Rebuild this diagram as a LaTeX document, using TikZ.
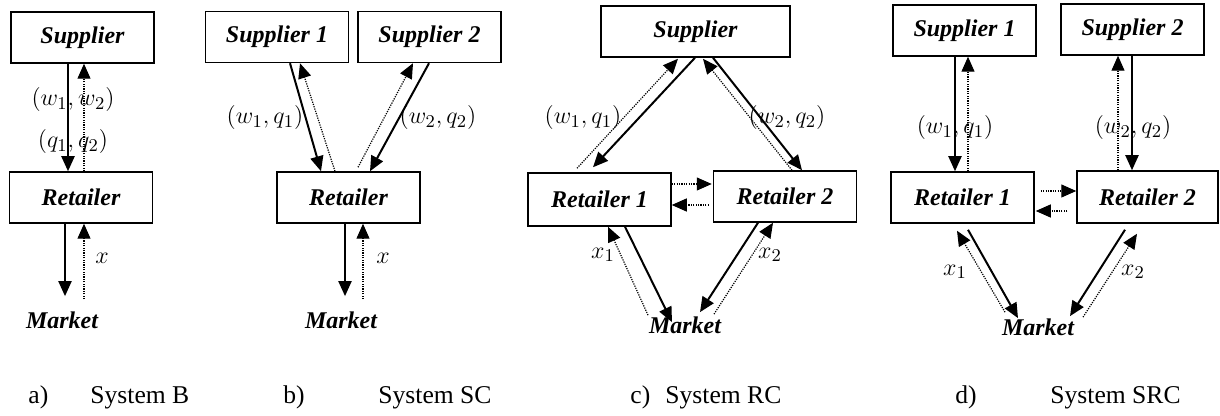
\documentclass[tikz,border=0pt]{standalone}
\usepackage{fontspec}
\setmainfont{Liberation Serif}
\usepackage{tikz}
\usetikzlibrary{arrows.meta,calc}
\usepackage{amsmath}

\begin{document}
\begin{tikzpicture}[x=0.5pt,y=-0.5pt,
box/.style={draw,line width=0.75pt,minimum width=71.5pt,minimum height=25.5pt,inner sep=0pt,font=\fontsize{12}{14}\selectfont\bfseries\itshape},
mkt/.style={inner sep=0pt,font=\fontsize{12}{14}\selectfont\bfseries\itshape},
lab/.style={inner sep=0pt,font=\fontsize{13}{15}\selectfont},
capt/.style={inner sep=0pt,anchor=base west,font=\fontsize{12.8}{15}\selectfont},
sol/.style={line width=1pt,-{Triangle[length=7.5pt,width=6.5pt]}},
dot/.style={line width=0.6pt,dash pattern=on 0.6pt off 0.6pt,-{Triangle[length=7.5pt,width=6.5pt]}}]
\useasboundingbox (0,0) rectangle (1220,416);

\node[box] (supA) at (82.5,37.5) {Supplier};
\node[box] (retA) at (81,197.5) {Retailer};
\node[mkt] (mktA) at (62,320) {Market};
\draw[sol] ($(supA.south)+(-14.5,0)$) -- ($(retA.north)+(-13,0)$);
\draw[dot] ($(retA.north)+(3,0)$) -- ($(supA.south)+(1.5,0)$);
\draw[sol] ($(retA.south)+(-16,0)$) -- ($(mktA.north)+(3,-15)$);
\draw[dot] ($(mktA.north)+(22,-12)$) -- ($(retA.south)+(3,0)$);
\node[lab] (wA) at (73,100) {$(w_1, w_2)$};
\node[lab] (qA) at (73,142) {$(q_1, q_2)$};
\node[lab] (xA) at (102,258) {$x$};

\node[box] (supB1) at (277,37) {Supplier 1};
\node[box] (supB2) at (429.5,37) {Supplier 2};
\node[box] (retB) at (348.5,197.5) {Retailer};
\node[mkt] (mktB) at (341,320) {Market};
\draw[sol] ($(supB1.south)+(13,0)$) -- ($(retB.north)+(-27.5,0)$);
\draw[dot] ($(retB.north)+(-13.5,0)$) -- ($(supB1.south)+(23,0)$);
\draw[sol] ($(supB2.south)+(-0.5,0)$) -- ($(retB.north)+(21.5,0)$);
\draw[dot] ($(retB.north)+(9.5,-4)$) -- ($(supB2.south)+(-16.5,0)$);
\draw[sol] ($(retB.south)+(-3.5,0)$) -- ($(mktB.north)+(4,-15)$);
\draw[dot] ($(mktB.north)+(22,-12)$) -- ($(retB.south)+(14.5,0)$);
\node[lab] (wqB1) at (265,118) {$(w_1, q_1)$};
\node[lab] (wqB2) at (438,118) {$(w_2, q_2)$};
\node[lab] (xB) at (383,258) {$x$};

\node[box,minimum width=94.5pt] (supC) at (695.5,31.5) {Supplier};
\node[box,minimum height=26.5pt] (retC1) at (599.5,199.5) {Retailer 1};
\node[box] (retC2) at (785,196.5) {Retailer 2};
\node[mkt] (mktC) at (685,325) {Market};
\draw[dot] ($(retC1.north)+(-22.5,-4)$) -- ($(supC.south)+(-17.5,1)$);
\draw[sol] ($(supC.south)+(-0.5,0)$) -- ($(retC1.north)+(-6.5,-5)$);
\draw[sol] ($(supC.south)+(17.5,0)$) -- ($(retC2.north)+(17,0)$);
\draw[dot] ($(retC2.north)+(7,0)$) -- ($(supC.south)+(7.5,1)$);
\draw[dot] ($(retC1.east)+(0,-15.5)$) -- ($(retC2.west)+(-1,-12.5)$);
\draw[dot] ($(retC2.west)+(-4,8.5)$) -- ($(retC1.east)+(0,5.5)$);
\draw[dot] ($(mktC.north)+(-37,-1)$) -- ($(retC1.south)+(8.5,0)$);
\draw[sol] ($(retC1.south)+(25.5,0)$) -- ($(mktC.north)+(-13,6)$);
\draw[sol] ($(retC2.south)+(-27,0)$) -- ($(mktC.north)+(15,-4)$);
\draw[dot] ($(mktC.north)+(29,-2)$) -- ($(retC2.south)+(-12,0)$);
\node[lab] (wqC1) at (583,118) {$(w_1, q_1)$};
\node[lab] (wqC2) at (787,118) {$(w_2, q_2)$};
\node[lab] (xC1) at (603,255) {$x_1$};
\node[lab] (xC2) at (770,255) {$x_2$};

\node[box] (supD1) at (964.5,30.5) {Supplier 1};
\node[box] (supD2) at (1132.5,29.5) {Supplier 2};
\node[box] (retD1) at (962.5,197.5) {Retailer 1};
\node[box,minimum width=70.5pt,minimum height=26pt] (retD2) at (1147.5,197) {Retailer 2};
\node[mkt] (mktD) at (1038,327) {Market};
\draw[sol] ($(supD1.south)+(-9.5,0)$) -- ($(retD1.north)+(-7.5,0)$);
\draw[dot] ($(retD1.north)+(5.5,0)$) -- ($(supD1.south)+(3.5,0)$);
\draw[dot] ($(retD2.north)+(-29.5,0)$) -- ($(supD2.south)+(-14.5,0)$);
\draw[sol] ($(supD2.south)+(-0.5,0)$) -- ($(retD2.north)+(-15.5,0)$);
\draw[dot] ($(retD1.east)+(6,-6.5)$) -- ($(retD2.west)+(0,-6)$);
\draw[dot] ($(retD2.west)+(-9,14)$) -- ($(retD1.east)+(1,13.5)$);
\draw[dot] ($(mktD.north)+(-33,-6)$) -- ($(retD1.south)+(-5.5,7)$);
\draw[sol] ($(retD1.south)+(5.5,6)$) -- ($(mktD.north)+(-20,0)$);
\draw[sol] ($(retD2.south)+(-22.5,6)$) -- ($(mktD.north)+(32,-2)$);
\draw[dot] ($(mktD.north)+(45,-1)$) -- ($(retD2.south)+(-10.5,10)$);
\node[lab] (wqD1) at (955,128) {$(w_1, q_1)$};
\node[lab] (wqD2) at (1133,128) {$(w_2, q_2)$};
\node[lab] (xD1) at (955,272) {$x_1$};
\node[lab] (xD2) at (1133,272) {$x_2$};

\node[capt] (capA) at (28,403) {a)};
\node[capt] (sysA) at (90,403) {System B};
\node[capt] (capB) at (283,403) {b)};
\node[capt] (sysB) at (378,403) {System SC};
\node[capt] (capC) at (630,403) {c)};
\node[capt] (sysC) at (665,403) {System RC};
\node[capt] (capD) at (955,403) {d)};
\node[capt] (sysD) at (1050,403) {System SRC};
\end{tikzpicture}
\end{document}
